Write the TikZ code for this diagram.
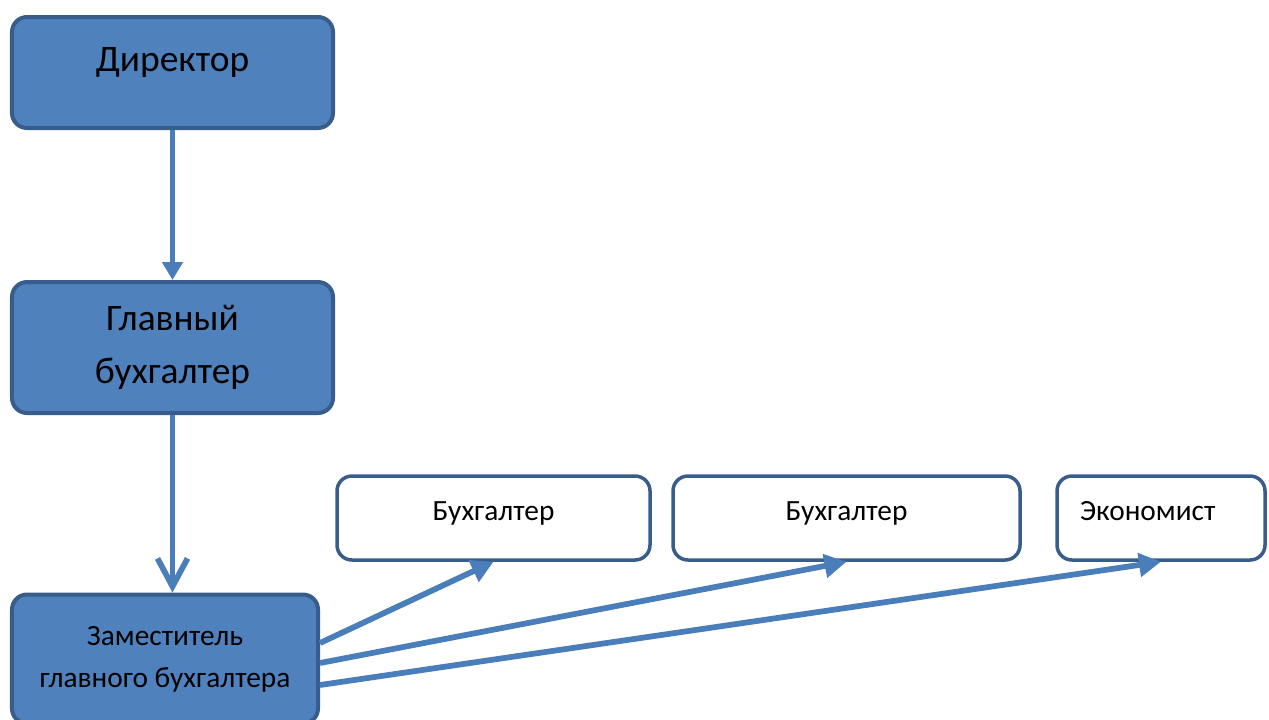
\documentclass[tikz,border=0pt]{standalone}
\usepackage{fontspec}
\setmainfont{Carlito}
\usetikzlibrary{arrows.meta}
\definecolor{orgfill}{RGB}{79, 129, 189}
\definecolor{orgline}{RGB}{56, 93, 138}
\definecolor{orgarrow}{RGB}{74, 126, 187}

\begin{document}
\begin{tikzpicture}[x=0.2mm, y=-0.2mm,
    mainbox/.style={draw=orgline, fill=orgfill, line width=0.8mm, rounded corners=3mm, align=center},
    staffbox/.style={draw=orgline, fill=white, line width=0.7mm, rounded corners=3mm, minimum height=16.8mm,
        text height=3.6mm, text depth=2.8mm, font=\fontsize{16.7pt}{23.9pt}\selectfont},
    link/.style={draw=orgarrow, line width=1.15mm, -{Triangle[length=4.4mm, width=4.6mm]}}]
    % Accounting department structure
    \path[clip, use as bounding box] (0,0) rectangle (1269,719);

    \node[mainbox, minimum width=64.2mm, minimum height=22.2mm, text height=4.6mm, text depth=5.2mm,
        font=\fontsize{21.3pt}{30.2pt}\selectfont] (dir) at (172.5,72.5) {Директор};
    \node[mainbox, minimum width=64.2mm, minimum height=26.2mm,
        font=\fontsize{21.3pt}{30.2pt}\selectfont] (chief) at (172.5,347.5) {Главный\\бухгалтер};
    \node[mainbox, minimum width=61.2mm, minimum height=25.8mm,
        font=\fontsize{16.7pt}{23.9pt}\selectfont] (deputy) at (165,659) {Заместитель\\главного бухгалтера};

    \node[staffbox, minimum width=62.6mm] (acc1) at (493.5,518) {Бухгалтер};
    \node[staffbox, minimum width=69.4mm] (acc2) at (846.5,518) {Бухгалтер};
    \node[staffbox, text width=32.4mm, inner xsep=4.6mm, align=left] (econ) at (1161,518) {Экономист};

    \draw[link, -{Triangle[length=3.6mm, width=4mm]}] (dir.south) -- (chief.north);
    \draw[link, -{Straight Barb[length=5.6mm, width=6mm]}] (chief.south) -- (chief.south |- deputy.north);
    \draw[link] ([yshift=3.2mm]deputy.east) -- (acc1.south);
    \draw[link] ([yshift=-0.8mm]deputy.east) -- (acc2.south);
    \draw[link] ([yshift=-5.2mm]deputy.east) -- (econ.south);
\end{tikzpicture}
\end{document}
